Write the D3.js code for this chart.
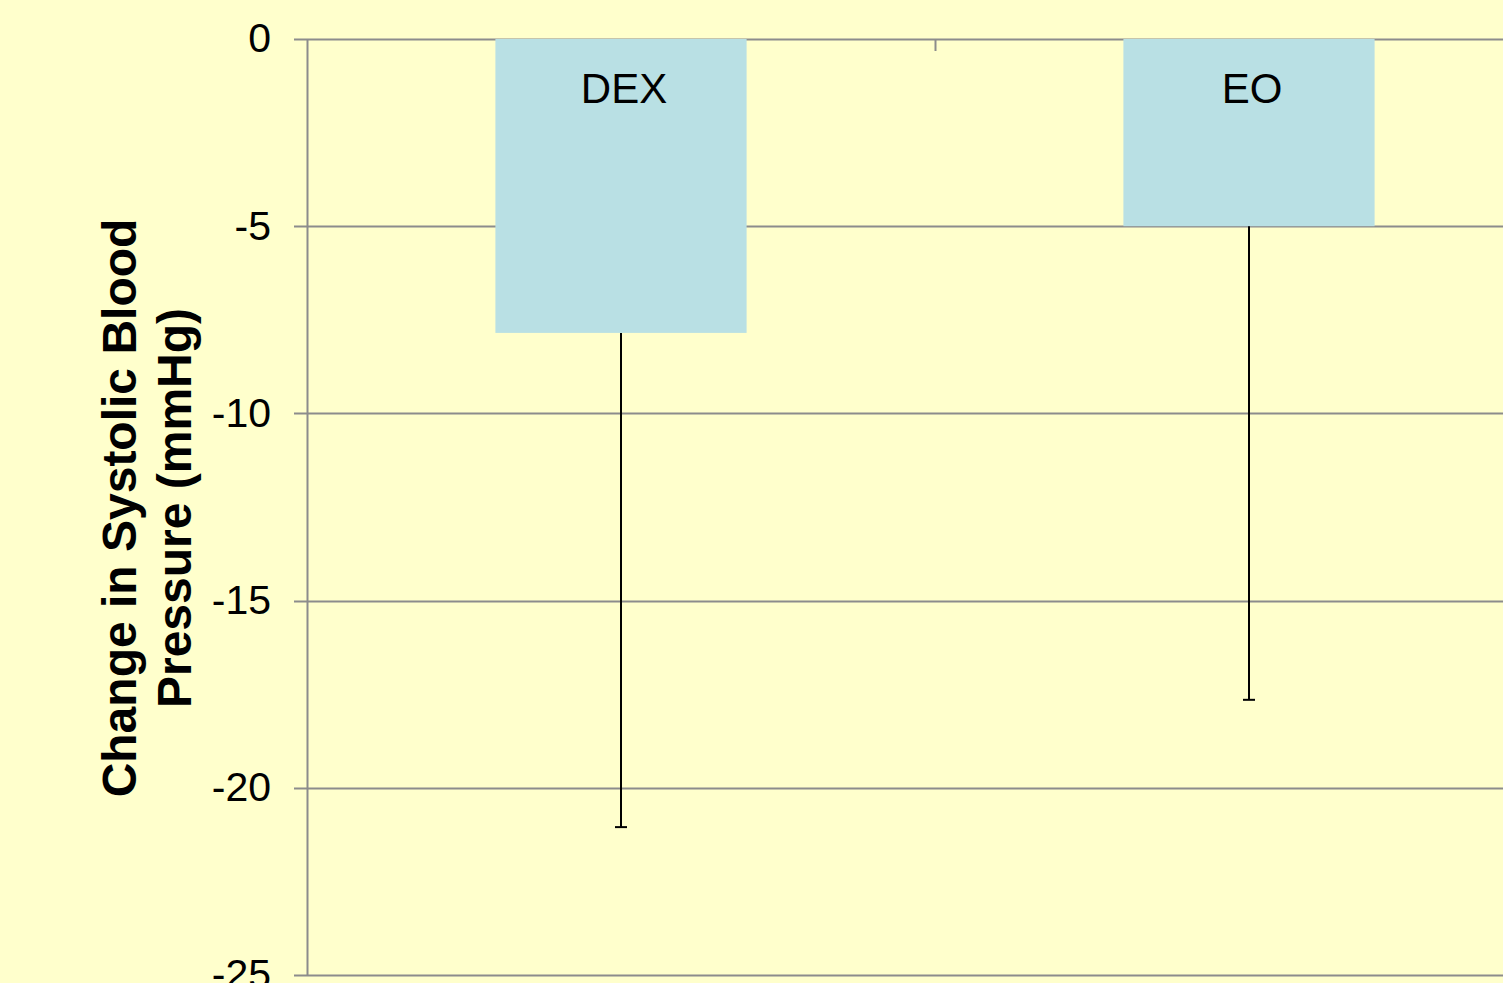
<!DOCTYPE html>
<html>
<head>
<meta charset="utf-8">
<script src="https://cdn.jsdelivr.net/npm/d3@7"></script>
<style>
  body { margin: 0; background: #FFFFCC; overflow: hidden; }
  svg { display: block; font-family: "Liberation Sans", Arial, sans-serif; }
</style>
</head>
<body>
<div></div>
<script>
var width = 1503;
var height = 983;

// data
var categories = ["DEX", "EO"];
var values = [-7.85, -5];
var errorLow = [-21.05, -17.65];
var yTicks = [0, -5, -10, -15, -20, -25];

var svg = d3.select("div")
  .append("svg")
  .attr("width", width)
  .attr("height", height);

svg.append("rect")
  .attr("width", width)
  .attr("height", height)
  .attr("fill", "#FFFFCC");

var x = d3.scaleBand()
  .domain(categories)
  .range([307, 1563])
  .paddingInner(0.6)
  .paddingOuter(0.3);

var y = d3.scaleLinear()
  .domain([0, -25])
  .range([39, 975]);

// gridlines + left ticks
svg.append("g")
  .selectAll("line")
  .data(yTicks)
  .join("line")
  .attr("x1", 294)
  .attr("x2", width)
  .attr("y1", (d) => Math.round(y(d)) + 0.5)
  .attr("y2", (d) => Math.round(y(d)) + 0.5)
  .attr("stroke", "#8c8c8c")
  .attr("stroke-width", 2);

// y tick labels
svg.append("g")
  .selectAll("text")
  .data(yTicks)
  .join("text")
  .attr("x", 271)
  .attr("y", (d) => y(d) - 1)
  .attr("dy", "0.35em")
  .attr("text-anchor", "end")
  .attr("font-size", 41)
  .attr("fill", "#000")
  .text((d) => d);

// bars
svg.append("g")
  .selectAll("rect")
  .data(categories)
  .join("rect")
  .attr("x", (d) => x(d))
  .attr("y", y(0))
  .attr("width", x.bandwidth())
  .attr("height", (d, i) => y(values[i]) - y(0))
  .attr("fill", "#B9E0E4");

// error bars
var err = svg.append("g").attr("stroke", "#000").attr("stroke-width", 2);
categories.forEach((c, i) => {
  var cx = Math.round(x(c) + x.bandwidth() / 2);
  err.append("line")
    .attr("x1", cx).attr("x2", cx)
    .attr("y1", y(values[i])).attr("y2", y(errorLow[i]));
  err.append("line")
    .attr("x1", cx - 6).attr("x2", cx + 6)
    .attr("y1", y(errorLow[i])).attr("y2", y(errorLow[i]));
});

// category labels inside the bars
svg.append("g")
  .selectAll("text")
  .data(categories)
  .join("text")
  .attr("x", (d) => x(d) + x.bandwidth() / 2 + 3)
  .attr("y", 103)
  .attr("text-anchor", "middle")
  .attr("font-size", 42)
  .attr("fill", "#000")
  .text((d) => d);

// y axis line
svg.append("line")
  .attr("x1", 307.5).attr("x2", 307.5)
  .attr("y1", y(0)).attr("y2", y(-25))
  .attr("stroke", "#8c8c8c")
  .attr("stroke-width", 2);

// category divider tick (x axis sits at top)
svg.append("line")
  .attr("x1", 935.5).attr("x2", 935.5)
  .attr("y1", y(0)).attr("y2", y(0) + 12)
  .attr("stroke", "#8c8c8c")
  .attr("stroke-width", 2);

// y axis title
var title = svg.append("text")
  .attr("transform", "translate(0,508) rotate(-90)")
  .attr("text-anchor", "middle")
  .attr("font-size", 48)
  .attr("font-weight", "bold")
  .attr("fill", "#000");
title.append("tspan").attr("x", 0).attr("y", 136).text("Change in Systolic Blood");
title.append("tspan").attr("x", 0).attr("y", 191).text("Pressure (mmHg)");
</script>
</body>
</html>
